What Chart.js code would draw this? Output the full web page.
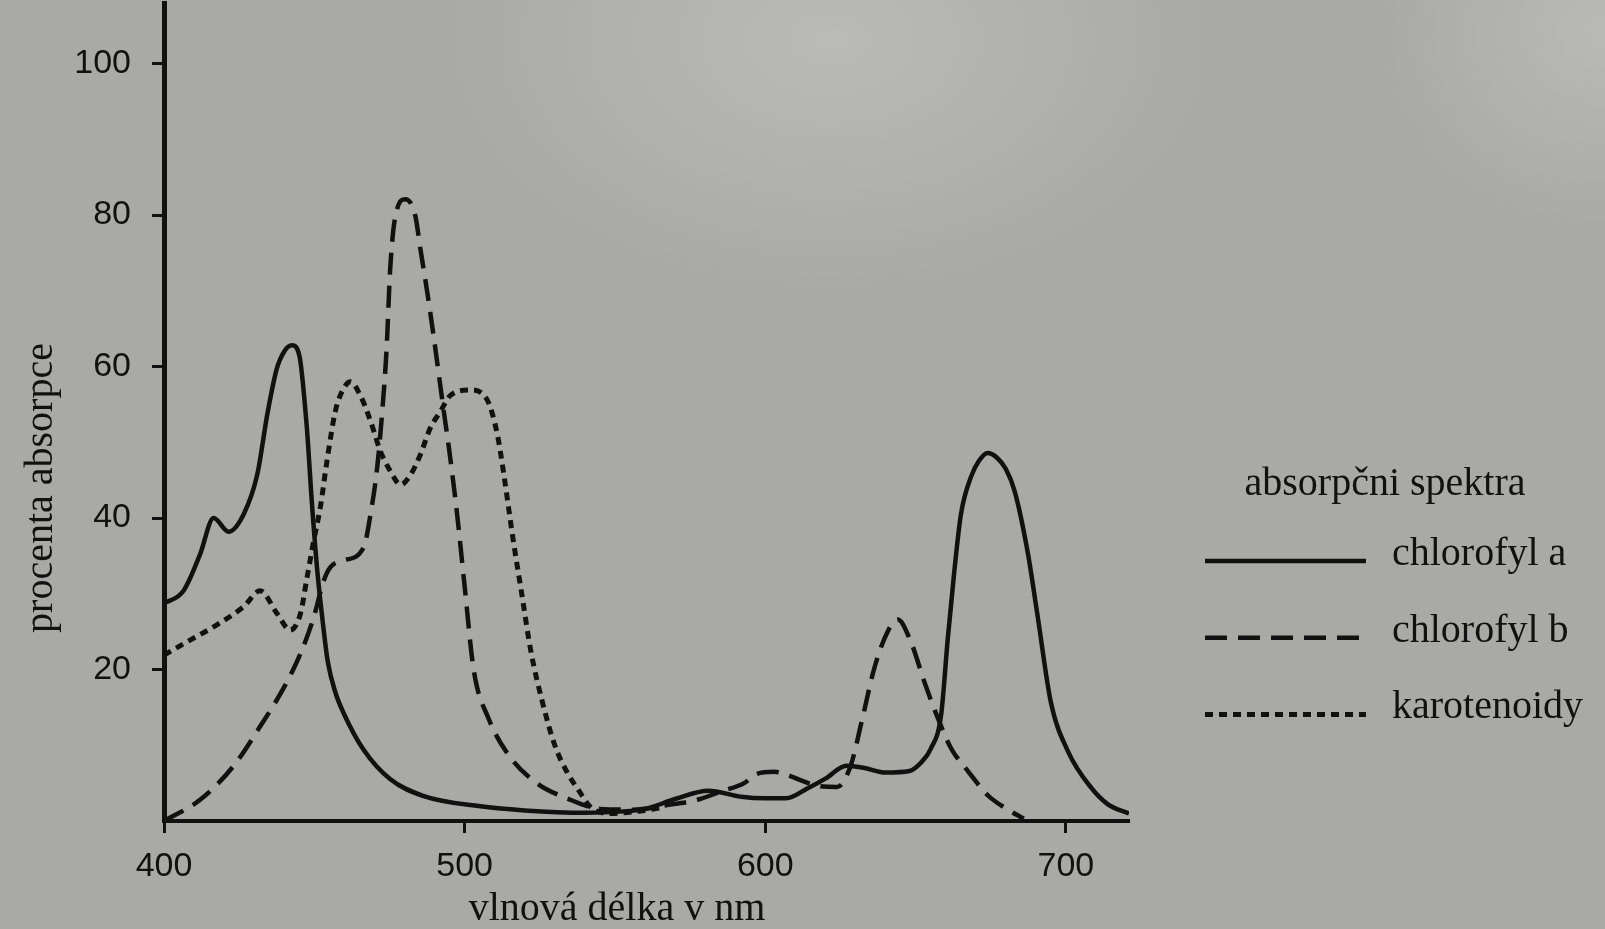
<!DOCTYPE html>
<html lang="cs">
<head>
<meta charset="utf-8">
<title>Absorpční spektra</title>
<script src="https://cdn.jsdelivr.net/npm/chart.js@4.4.1/dist/chart.umd.min.js"></script>
<style>
    html, body { margin: 0; padding: 0; }
    body {
        width: 1605px;
        height: 929px;
        overflow: hidden;
        background:
            radial-gradient(ellipse 380px 250px at 830px 40px, rgba(189,190,188,0.85), rgba(189,190,188,0)),
            radial-gradient(ellipse 220px 200px at 1600px 30px, rgba(189,190,188,0.8), rgba(189,190,188,0)),
            #a9aaa5;
    }
    #wrap { position: relative; width: 1605px; height: 929px; }
</style>
</head>
<body>
<div id="wrap"><canvas id="spectra"></canvas></div>
<script>
// --------------------------------------------------------------------
// DATA
// --------------------------------------------------------------------
const chlAWave  = [400, 406.5, 412, 416.5, 421.5, 426.5, 431, 434.5, 437.5, 440, 442.6, 445, 447.5, 449.2, 451, 452.6, 454.5, 457, 459.8, 466.4, 475.3, 486.4, 504, 520, 540, 560, 570, 581, 592, 600, 607, 614, 620, 627, 633, 640, 648, 652, 655, 658.5, 660.7, 662.9, 665.1, 668.5, 671, 674, 677, 680, 683, 687.3, 690.7, 695, 700.7, 708.4, 714, 721];
const chlAValue = [28.7, 30.4, 35.2, 40.0, 38.2, 40.5, 45.7, 54, 59.7, 62, 62.8, 61.5, 52, 42, 33, 27, 21, 17, 14.2, 9.4, 5.5, 3.3, 2.0, 1.4, 1.1, 1.6, 2.9, 4.0, 3.2, 3.0, 3.0, 4.3, 5.6, 7.3, 7.0, 6.4, 6.6, 7.8, 9.5, 14, 24, 33, 40.5, 45.5, 47.5, 48.6, 48.0, 46.5, 43.5, 35.5, 26.8, 15.7, 9.2, 4.4, 2.2, 1.0];

const chlBWave  = [400, 412, 423, 432, 440, 445.4, 449.8, 453.1, 455.3, 459.8, 466.4, 468.7, 470.9, 472.5, 474, 475.3, 477, 480.3, 483.6, 485.3, 487.5, 489.7, 491.4, 493.1, 494.7, 497.5, 500, 503, 508, 515, 524, 534, 545, 556, 567.4, 577.4, 586, 593, 597, 603, 608.5, 613, 618, 624, 628.5, 632, 636.3, 640.7, 644.1, 648.5, 652.9, 657.4, 661.8, 667.4, 674, 680.7, 686];
const chlBValue = [0, 2.8, 7.2, 12.5, 17.7, 22.1, 26.9, 31.7, 33.5, 34.4, 36.1, 40.5, 46.6, 53.6, 62, 73.3, 79.9, 82.1, 79.9, 75.5, 70, 64, 59, 54, 49.5, 40.5, 31, 20, 13.5, 8.5, 5, 3, 1.6, 1.5, 2.1, 2.8, 4.0, 5.0, 6.2, 6.5, 5.9, 5.2, 4.6, 4.5, 7.4, 13, 20.2, 25, 26.6, 23.6, 18.4, 13.6, 9.6, 6.6, 3.4, 1.5, 0.3];

const karWave  = [400, 406.5, 417.6, 426.5, 432, 437.6, 442, 445.4, 447.6, 449.8, 452, 454.2, 457, 459.2, 462, 465.3, 468.7, 472, 475.3, 478.7, 482, 485.3, 488.6, 492, 495.3, 502, 507.5, 510.9, 513.1, 516, 519, 522, 526, 530, 534, 538, 542, 548, 556, 566];
const karValue = [21.9, 23.4, 25.9, 28.3, 30.4, 27.4, 25.2, 27.4, 32.2, 37, 41.4, 47.5, 54.1, 56.7, 58, 56.2, 52.8, 48.8, 46.2, 44.4, 45.7, 48.4, 51.9, 54.1, 56.2, 56.9, 55.6, 51, 45.6, 37.5, 30, 22.5, 15.5, 10, 6.5, 4, 1.8, 1.0, 1.2, 1.8];

const seriesNames = ["chlorofyl a", "chlorofyl b", "karotenoidy"];
const xTicks = [400, 500, 600, 700];
const yTicks = [20, 40, 60, 80, 100];

const xTitle = "vlnová délka v nm";
const yTitle = "procenta absorpce";
const legendTitle = "absorpčni spektra";

// --------------------------------------------------------------------
// STYLE
// --------------------------------------------------------------------
const ink = "#111111";
const sansFont = "'Liberation Sans', Arial, sans-serif";
const serifFont = "'Liberation Serif', 'Times New Roman', serif";

function points(wave, value) {
    return wave.map((w, i) => ({ x: w, y: value[i] }));
}

function lineSet(label, wave, value, dash, width) {
    return {
        label: label,
        data: points(wave, value),
        borderColor: ink,
        backgroundColor: ink,
        borderWidth: width,
        borderDash: dash,
        borderJoinStyle: "round",
        pointRadius: 0,
        cubicInterpolationMode: "monotone",
        fill: false
    };
}

// axis titles + legend drawn next to the plot, like in the book
const sideText = {
    id: "sideText",
    afterDraw(chart) {
        const ctx = chart.ctx;
        ctx.save();
        ctx.fillStyle = ink;
        ctx.strokeStyle = ink;
        ctx.font = "40px " + serifFont;
        ctx.textBaseline = "alphabetic";

        // x title
        ctx.textAlign = "center";
        ctx.fillText(xTitle, 617, 920);

        // y title
        ctx.save();
        ctx.translate(52, 488);
        ctx.rotate(-Math.PI / 2);
        ctx.fillText(yTitle, 0, 0);
        ctx.restore();

        // legend
        ctx.fillText(legendTitle, 1385, 495);
        ctx.textAlign = "left";
        chart.data.datasets.forEach((ds, i) => {
            const base = 565 + i * 76.7;
            ctx.lineWidth = ds.borderWidth;
            ctx.setLineDash(ds.borderDash);
            ctx.beginPath();
            ctx.moveTo(1205, base - 4);
            ctx.lineTo(1366, base - 4);
            ctx.stroke();
            ctx.setLineDash([]);
            ctx.fillText(ds.label, 1392, base);
        });
        ctx.restore();
    }
};

// --------------------------------------------------------------------
// CHART
// --------------------------------------------------------------------
const ctx = document.getElementById("spectra").getContext("2d");

new Chart(ctx, {
    type: "line",
    data: {
        datasets: [
            lineSet(seriesNames[0], chlAWave, chlAValue, [], 4.5),
            lineSet(seriesNames[1], chlBWave, chlBValue, [22, 11], 4.5),
            lineSet(seriesNames[2], karWave, karValue, [8, 6], 5)
        ]
    },
    options: {
        responsive: true,
        maintainAspectRatio: false,
        animation: false,
        layout: { padding: { top: 3, right: 476, bottom: 0, left: 0 } },
        plugins: {
            legend: { display: false },
            tooltip: { enabled: false }
        },
        scales: {
            x: {
                type: "linear",
                min: 400,
                max: 721,
                afterBuildTicks: s => { s.ticks = xTicks.map(v => ({ value: v })); },
                afterFit: s => {
                    s.height = 108;
                    s.paddingLeft = 0; s.paddingRight = 0;
                },
                ticks: {
                    color: ink,
                    font: { family: sansFont, size: 34 },
                    padding: 13,
                    maxRotation: 0,
                    autoSkip: false
                },
                grid: {
                    drawOnChartArea: false,
                    drawTicks: true,
                    tickLength: 12,
                    tickWidth: 3,
                    color: ink
                },
                border: { display: true, color: ink, width: 4 }
            },
            y: {
                min: 0,
                max: 108,
                afterBuildTicks: s => { s.ticks = yTicks.map(v => ({ value: v })); },
                afterFit: s => {
                    s.width = 164;
                    s.paddingTop = 0; s.paddingBottom = 0;
                },
                ticks: {
                    color: ink,
                    font: { family: sansFont, size: 34 },
                    padding: 21
                },
                grid: {
                    drawOnChartArea: false,
                    drawTicks: true,
                    tickLength: 12,
                    tickWidth: 3,
                    color: ink
                },
                border: { display: true, color: ink, width: 5 }
            }
        }
    },
    plugins: [sideText]
});
</script>
</body>
</html>
